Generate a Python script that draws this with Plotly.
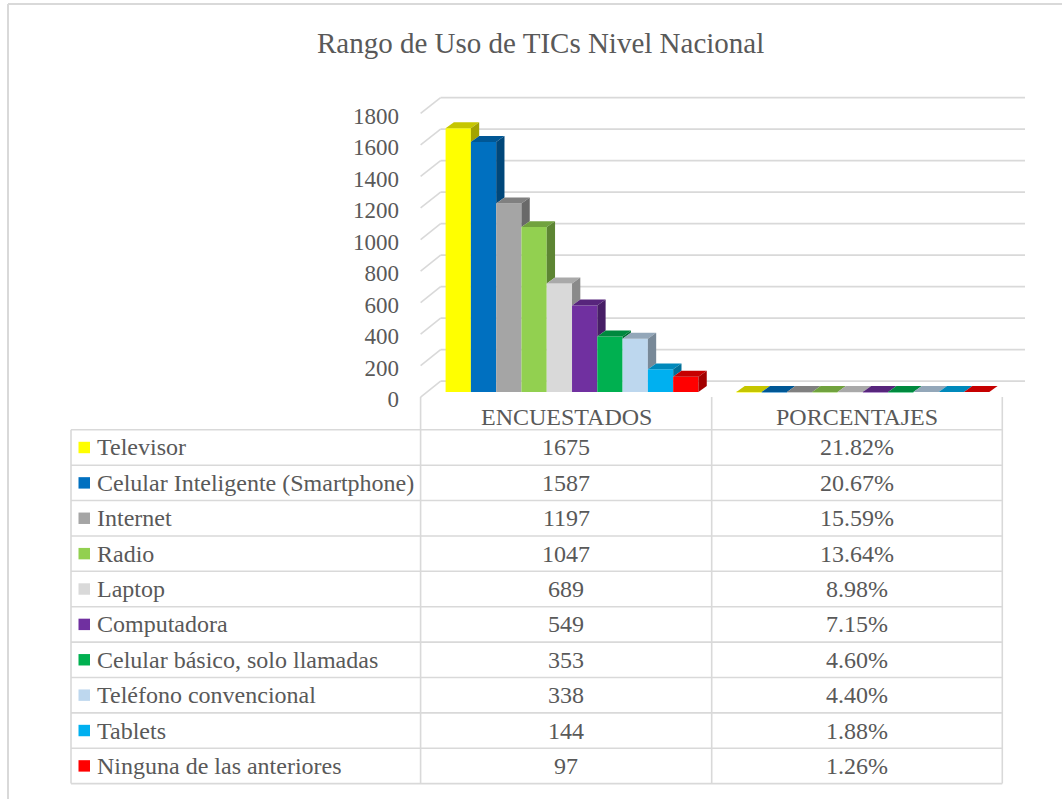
import plotly.graph_objects as go

# ---------------- data ----------------
title_text = "Rango de Uso de TICs Nivel Nacional"
categories = ["ENCUESTADOS", "PORCENTAJES"]
series_names = [
    "Televisor",
    "Celular Inteligente (Smartphone)",
    "Internet",
    "Radio",
    "Laptop",
    "Computadora",
    "Celular básico, solo llamadas",
    "Teléfono convencional",
    "Tablets",
    "Ninguna de las anteriores",
]
encuestados = [1675, 1587, 1197, 1047, 689, 549, 353, 338, 144, 97]
porcentajes = [0.2182, 0.2067, 0.1559, 0.1364, 0.0898, 0.0715, 0.0460, 0.0440, 0.0188, 0.0126]
series_colors = ["#FFFF00", "#0070C0", "#A5A5A5", "#92D050", "#D9D9D9",
                 "#7030A0", "#00B050", "#BDD7EE", "#00B0F0", "#FF0000"]
y_ticks = [0, 200, 400, 600, 800, 1000, 1200, 1400, 1600, 1800]

# ---------------- layout constants (pixels) ----------------
W, H = 1062, 804
FONT = "Liberation Serif, Times New Roman, serif"
TXT = "#595959"
GRID = "#D9D9D9"

CAT_PX = 290.85          # width of one category in pixels
COL_X = [420.6, 711.7, 1002.3]   # table column borders (= floor front)
TABLE_LEFT = 71.0
FLOOR_FRONT_Y = 399.5
ROW_TOP = 432.5
ROW_H = 35.6

BAR_SHIFT = (6.0, -5.0)      # floor front -> bar front plane
WALL_SHIFT = (20.0, -16.0)   # floor front -> back wall
BAR_DEPTH = (8.3, -6.0)      # bar side depth (projection)
PY = 0.1585                  # pixels per value unit
X0 = COL_X[0] + BAR_SHIFT[0] + CAT_PX / 2   # pixel of category 0 centre (bar plane)
Y0 = FLOOR_FRONT_Y + BAR_SHIFT[1]           # pixel of value 0 (bar plane)
GROUP = 0.8694               # fraction of a category used by the bar group

# plot-area pixel box
PA_L, PA_R, PA_T, PA_B = 402.0, 1045.0, 70.0, 410.0


def dx(px):
    return px / CAT_PX


def dy(px):
    return -px / PY


def xp(px):
    return px / W


def yp(py):
    return 1 - py / H


def shade(hexcol, f):
    h = hexcol.lstrip("#")
    r, g, b = (int(h[i:i + 2], 16) for i in (0, 2, 4))
    return "#%02X%02X%02X" % (int(r * f), int(g * f), int(b * f))


fig = go.Figure()

n = len(series_names)
w = GROUP / n
values = [encuestados, porcentajes]

# front faces: real bar traces
for i, name in enumerate(series_names):
    xs = [c - GROUP / 2 + (i + 0.5) * w for c in range(len(categories))]
    ys = [values[c][i] for c in range(len(categories))]
    fig.add_trace(go.Bar(x=xs, y=ys, width=w, name=name,
                         marker=dict(color=series_colors[i], line=dict(width=0)),
                         showlegend=False, hoverinfo="skip"))

# 3D top and side faces
ddx, ddy = dx(BAR_DEPTH[0]), dy(BAR_DEPTH[1])
for c in range(len(categories)):
    for i in range(n):
        v = values[c][i]
        xl = c - GROUP / 2 + i * w
        xr = xl + w
        nxt = values[c][i + 1] if i + 1 < n else 0
        low = min(nxt, v)
        fig.add_trace(go.Scatter(
            x=[xl, xl + ddx, xr + ddx, xr, xl], y=[v, v + ddy, v + ddy, v, v],
            mode="lines", line=dict(width=0), fill="toself",
            fillcolor=shade(series_colors[i], 0.78), showlegend=False, hoverinfo="skip"))
        fig.add_trace(go.Scatter(
            x=[xr, xr + ddx, xr + ddx, xr, xr], y=[low, low + ddy, v + ddy, v, low],
            mode="lines", line=dict(width=0), fill="toself",
            fillcolor=shade(series_colors[i], 0.64), showlegend=False, hoverinfo="skip"))

shapes = []
# back-wall gridlines with slanted left part
front_x = dx(COL_X[0] - X0)
wall_x = dx(COL_X[0] + WALL_SHIFT[0] - X0)
wall_r = dx(1025 - X0)
for t in y_ticks:
    yf = t + dy(FLOOR_FRONT_Y - Y0)
    yw = t + dy(FLOOR_FRONT_Y + WALL_SHIFT[1] - Y0)
    shapes.append(dict(type="line", xref="x", yref="y", x0=front_x, y0=yf, x1=wall_x, y1=yw,
                       line=dict(color=GRID, width=1.6), layer="below"))
    shapes.append(dict(type="line", xref="x", yref="y", x0=wall_x, y0=yw, x1=wall_r, y1=yw,
                       line=dict(color=GRID, width=1.6), layer="below"))

# outer chart border (top and left edges; right/bottom fall outside the picture)
shapes.append(dict(type="line", xref="paper", yref="paper", x0=xp(8), y0=yp(4), x1=1, y1=yp(4),
                   line=dict(color=GRID, width=2), layer="below"))
shapes.append(dict(type="line", xref="paper", yref="paper", x0=xp(8), y0=yp(4), x1=xp(8), y1=0,
                   line=dict(color=GRID, width=2), layer="below"))

# data table
table_bottom = ROW_TOP + ROW_H * n
for k in range(n + 1):
    yy = ROW_TOP + k * ROW_H
    shapes.append(dict(type="line", xref="paper", yref="paper", x0=xp(TABLE_LEFT), y0=yp(yy),
                       x1=xp(COL_X[-1]), y1=yp(yy), line=dict(color=GRID, width=1.6)))
shapes.append(dict(type="line", xref="paper", yref="paper", x0=xp(TABLE_LEFT), y0=yp(ROW_TOP),
                   x1=xp(TABLE_LEFT), y1=yp(table_bottom), line=dict(color=GRID, width=1.6)))
for cx in COL_X:
    shapes.append(dict(type="line", xref="paper", yref="paper", x0=xp(cx), y0=yp(FLOOR_FRONT_Y),
                       x1=xp(cx), y1=yp(table_bottom), line=dict(color=GRID, width=1.6)))

annotations = []
annotations.append(dict(text=title_text, x=xp(540), y=yp(43), xref="paper", yref="paper",
                        xanchor="center", yanchor="middle", showarrow=False,
                        font=dict(family=FONT, size=29, color=TXT)))
for c, cat in enumerate(categories):
    cx = (COL_X[c] + COL_X[c + 1]) / 2
    annotations.append(dict(text=cat, x=xp(cx), y=yp(420), xref="paper", yref="paper",
                            xanchor="center", yanchor="middle", showarrow=False,
                            font=dict(family=FONT, size=24, color=TXT)))
for i, name in enumerate(series_names):
    cy = ROW_TOP + (i + 0.5) * ROW_H
    shapes.append(dict(type="rect", xref="paper", yref="paper", x0=xp(78.5), x1=xp(90),
                       y0=yp(cy - 5.75), y1=yp(cy + 5.75), fillcolor=series_colors[i], line=dict(width=0)))
    annotations.append(dict(text=name, x=xp(94.5), y=yp(cy), xref="paper", yref="paper",
                            xanchor="left", yanchor="middle", showarrow=False,
                            font=dict(family=FONT, size=24, color=TXT)))
    cells = [str(encuestados[i]), "%.2f%%" % (porcentajes[i] * 100)]
    for c, txt in enumerate(cells):
        cx = (COL_X[c] + COL_X[c + 1]) / 2
        annotations.append(dict(text=txt, x=xp(cx), y=yp(cy), xref="paper", yref="paper",
                                xanchor="center", yanchor="middle", showarrow=False,
                                font=dict(family=FONT, size=24, color=TXT)))

fig.update_layout(
    width=W, height=H, margin=dict(l=0, r=0, t=0, b=0),
    paper_bgcolor="white", plot_bgcolor="rgba(0,0,0,0)",
    barmode="overlay", showlegend=False,
    xaxis=dict(domain=[xp(PA_L), xp(PA_R)], range=[dx(PA_L - X0), dx(PA_R - X0)],
               visible=False, fixedrange=True),
    yaxis=dict(domain=[yp(PA_B), yp(PA_T)], range=[(Y0 - PA_B) / PY, (Y0 - PA_T) / PY],
               tickvals=y_ticks, ticktext=[str(t) for t in y_ticks],
               showgrid=False, zeroline=False, showline=False, ticks="",
               ticklabelshift=7, ticklabelstandoff=2,
               tickfont=dict(family=FONT, size=23, color=TXT), fixedrange=True),
    shapes=shapes, annotations=annotations,
)

fig.write_html(
    "out.html", config={"displayModeBar": False},
    post_script=("document.documentElement.style.margin='0';"
                 "document.body.style.margin='0';"
                 "document.body.style.overflow='hidden';"
                 "document.documentElement.style.overflow='hidden';"
                 "var d=document.getElementById('{plot_id}');"
                 "d.style.position='fixed';d.style.left='0px';d.style.top='0px';"
                 "window.scrollTo(0,0);"))
